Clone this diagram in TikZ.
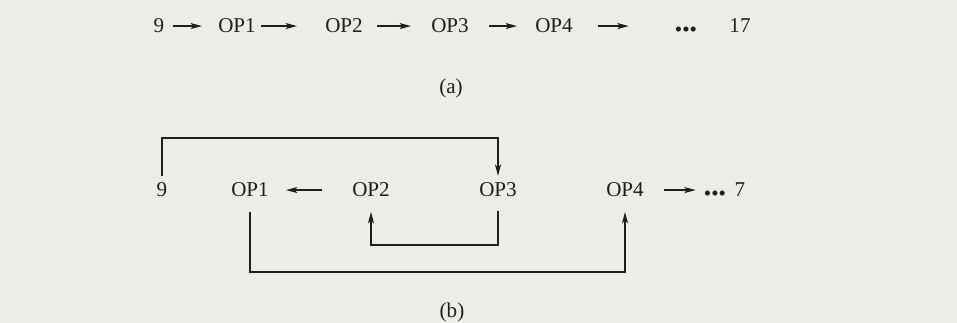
\documentclass[tikz,border=0pt]{standalone}
\usepackage{fontspec}
\setmainfont{Liberation Serif}
\usetikzlibrary{arrows.meta}
\definecolor{paper}{RGB}{236,236,232}
\definecolor{ink}{RGB}{30,30,30}
\begin{document}
\begin{tikzpicture}[x=0.75pt,y=-0.75pt,
  lbl/.style={anchor=base,inner sep=0pt,text height=10.4pt,text depth=0pt,
              font=\fontsize{15.8pt}{18pt}\selectfont,text=ink},
  figcap/.style={anchor=base,inner sep=0pt,font=\fontsize{15.8pt}{18pt}\selectfont,text=ink},
  arr/.style={draw=ink,line width=0.95pt,-{Stealth[length=8.5pt,width=4.5pt,inset=2pt]}}]
\fill[paper] (0,0) rectangle (957,323);
\useasboundingbox (0,0) rectangle (957,323);

% ---- (a) ----
\node[lbl] (a9)   at (159,33) {9};
\node[lbl] (aop1) at (237,33) {OP1};
\node[lbl] (aop2) at (344,33) {OP2};
\node[lbl] (aop3) at (450,33) {OP3};
\node[lbl] (aop4) at (554,33) {OP4};
\node[lbl] (adots) at (686,33) {\raisebox{-3pt}{•••}};
\node[lbl] (a17)  at (740,33) {17};
\draw[arr,shorten <=6pt,shorten >=12pt] (a9) -- (aop1);
\draw[arr,shorten <=3.75pt,shorten >=21pt] (aop1) -- (aop2);
\draw[arr,shorten <=10.5pt,shorten >=15pt] (aop2) -- (aop3);
\draw[arr,shorten <=15pt,shorten >=13.5pt] (aop3) -- (aop4);
\draw[arr,shorten <=18.75pt,shorten >=34.5pt] (aop4) -- (adots);
\node[figcap] (capa) at (451,94) {(a)};

% ---- (b) ----
\node[lbl] (b9)   at (162,197) {9};
\node[lbl] (bop1) at (250,197) {OP1};
\node[lbl] (bop2) at (371,197) {OP2};
\node[lbl] (bop3) at (498,197) {OP3};
\node[lbl] (bop4) at (625,197) {OP4};
\node[lbl] (bdots) at (715,197) {\raisebox{-3pt}{•••}};
\node[lbl] (b7)   at (740,197) {7};
\coordinate (ytop) at (0,138);
\coordinate (yloopa) at (0,245);
\coordinate (yloopb) at (0,272);
\draw[arr,shorten <=22.5pt,shorten >=12.75pt] (bop2) -- (bop1);
\draw[arr,shorten <=15pt,shorten >=6pt] (bop4) -- (bdots);
\draw[arr,shorten <=5.25pt,shorten >=5.25pt] (b9.north) -- (b9.north |- ytop) -| (bop3.north);
\draw[arr,shorten <=10pt,shorten >=11pt] (bop3.south) -- (bop3.south |- yloopa) -| (bop2.south);
\draw[arr,shorten <=11pt,shorten >=11pt] (bop1.south) -- (bop1.south |- yloopb) -| (bop4.south);
\node[figcap] (capb) at (452,318) {(b)};
\end{tikzpicture}
\end{document}
